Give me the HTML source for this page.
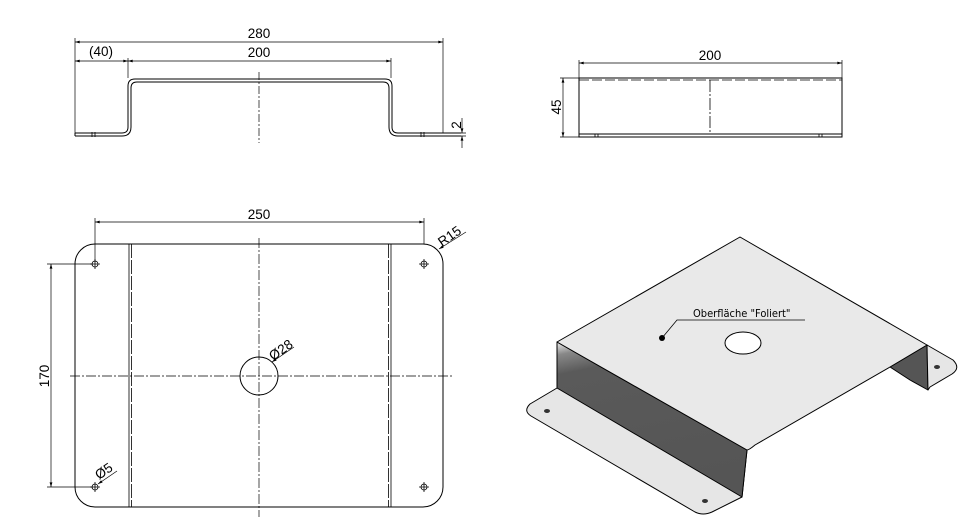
<!DOCTYPE html>
<html><head><meta charset="utf-8"><style>
html,body{margin:0;padding:0;background:#fff;}
svg{display:block;font-family:"Liberation Sans",sans-serif;}
</style></head><body>
<svg width="980" height="523" viewBox="0 0 980 523" xmlns="http://www.w3.org/2000/svg">
<defs>
<marker id="a" viewBox="0 0 10 6" refX="10" refY="3" markerWidth="8" markerHeight="4" orient="auto-start-reverse"><path d="M0,0L10,3L0,6z" fill="#000"/></marker>
<linearGradient id="w" x1="0" y1="0" x2="0.25" y2="1"><stop offset="0" stop-color="#f0f0f0"/><stop offset="0.08" stop-color="#888"/><stop offset="0.2" stop-color="#5a5a5a"/><stop offset="1" stop-color="#555"/></linearGradient>
</defs>
<g stroke="#000" stroke-width="1" fill="none">
<path d="M75,136H122Q131,136 131,127V88Q131,82 137,82H383Q389,82 389,88V127Q389,136 398,136H461"/>
<path d="M75,133H122Q128,133 128,127V86Q128,79 135,79H385Q392,79 392,86V127Q392,133 398,133H461"/>
<line x1="75" y1="133" x2="75" y2="136"/>
<path d="M92,132V137M95,132V137M421,132V137M424,132V137" stroke-width="0.8"/>
<line x1="75" y1="38" x2="75" y2="133" stroke-width="0.7"/>
<line x1="443" y1="38" x2="443" y2="133" stroke-width="0.7"/>
<line x1="128" y1="58" x2="128" y2="78" stroke-width="0.7"/>
<line x1="391" y1="58" x2="391" y2="78" stroke-width="0.7"/>
<line x1="75" y1="42" x2="443" y2="42" stroke-width="0.7" marker-start="url(#a)" marker-end="url(#a)"/>
<line x1="75" y1="61" x2="128" y2="61" stroke-width="0.7" marker-start="url(#a)" marker-end="url(#a)"/>
<line x1="128" y1="61" x2="391" y2="61" stroke-width="0.7" marker-start="url(#a)" marker-end="url(#a)"/>
<line x1="259" y1="72" x2="259" y2="143" stroke-width="0.7" stroke-dasharray="8,2,2,2"/>
<line x1="443" y1="133" x2="466" y2="133" stroke-width="0.7"/>
<line x1="443" y1="136" x2="466" y2="136" stroke-width="0.7"/>
<line x1="462" y1="118" x2="462" y2="133" stroke-width="0.7" marker-end="url(#a)"/>
<line x1="462" y1="148" x2="462" y2="136" stroke-width="0.7" marker-end="url(#a)"/>

<rect x="579" y="78" width="263" height="59"/>
<line x1="579" y1="80" x2="842" y2="80" stroke-dasharray="10,3" stroke-width="0.8"/>
<line x1="579" y1="134" x2="842" y2="134"/>
<line x1="710" y1="80" x2="710" y2="134" stroke-width="0.8" stroke-dasharray="12,2,2,2"/>
<path d="M595,134V137M598,134V137M819,134V137M822,134V137" stroke-width="0.8"/>
<line x1="579" y1="60" x2="579" y2="78" stroke-width="0.7"/>
<line x1="842" y1="60" x2="842" y2="78" stroke-width="0.7"/>
<line x1="579" y1="63" x2="842" y2="63" stroke-width="0.7" marker-start="url(#a)" marker-end="url(#a)"/>
<line x1="560" y1="78" x2="579" y2="78" stroke-width="0.7"/>
<line x1="560" y1="137" x2="579" y2="137" stroke-width="0.7"/>
<line x1="563" y1="78" x2="563" y2="137" stroke-width="0.7" marker-start="url(#a)" marker-end="url(#a)"/>

<rect x="75" y="244" width="368" height="263" rx="20"/>
<path d="M129,244V507M391,244V507" stroke-width="0.8"/>
<path d="M131.5,244V507M388.5,244V507" stroke-width="0.8" stroke-dasharray="14,2"/>
<circle cx="259" cy="376" r="19"/>
<line x1="259" y1="238" x2="259" y2="517" stroke-width="0.7" stroke-dasharray="10,2,2,2"/>
<line x1="70" y1="376" x2="452" y2="376" stroke-width="0.7" stroke-dasharray="10,2,2,2"/>
<g stroke-width="0.8">
<circle cx="95" cy="264" r="3"/><path d="M90,264H100M95,259V269"/>
<circle cx="424" cy="264" r="3"/><path d="M419,264H429M424,259V269"/>
<circle cx="95" cy="487" r="3"/><path d="M90,487H100M95,482V492"/>
<circle cx="424" cy="487" r="3"/><path d="M419,487H429M424,482V492"/>
</g>
<line x1="95" y1="218" x2="95" y2="262" stroke-width="0.7"/>
<line x1="424" y1="218" x2="424" y2="244" stroke-width="0.7"/>
<line x1="95" y1="222" x2="424" y2="222" stroke-width="0.7" marker-start="url(#a)" marker-end="url(#a)"/>
<line x1="47" y1="264" x2="93" y2="264" stroke-width="0.7"/>
<line x1="47" y1="487" x2="93" y2="487" stroke-width="0.7"/>
<line x1="51" y1="264" x2="51" y2="487" stroke-width="0.7" marker-start="url(#a)" marker-end="url(#a)"/>
<line x1="466" y1="232" x2="439" y2="249" stroke-width="0.7" marker-end="url(#a)"/>
<line x1="294" y1="347" x2="272" y2="362" stroke-width="0.7" marker-end="url(#a)"/>
<line x1="117" y1="471" x2="98" y2="484" stroke-width="0.7" marker-end="url(#a)"/>
</g>

<g stroke="#000" stroke-width="1" stroke-linejoin="round">
<path d="M557,388L530,404Q523,411 531,416L695,512Q703,516 712,512L742,497L747,450L557,342Z" fill="#e6e6e6"/>
<path d="M557,342L747,450L742,497L557,388Z" fill="url(#w)"/>
<path d="M890,367L927,345L928,390L910,380Z" fill="#555"/>
<path d="M927,345L953,360Q961,368 952,374L930,387L928,390Z" fill="#e6e6e6"/>
<path d="M557,342L740,237L927,345L890,367L755,445Q749,450 747,450L557,342Z" fill="#e9e9e9"/>
<ellipse cx="743" cy="343" rx="18" ry="11" fill="#fff"/>
</g>
<g fill="#333">
<ellipse cx="547" cy="411" rx="3" ry="2"/><ellipse cx="705" cy="501" rx="3" ry="2"/><ellipse cx="937" cy="367" rx="3" ry="2"/>
<circle cx="662" cy="338" r="3" fill="#000"/>
</g>
<path d="M662,338L677,320H805" stroke="#000" stroke-width="0.8" fill="none"/>

<g font-size="13.5" fill="#000">
<text x="259" y="38" text-anchor="middle">280</text>
<text x="259" y="57" text-anchor="middle">200</text>
<text x="101" y="56" text-anchor="middle">(40)</text>
<text x="710" y="60" text-anchor="middle">200</text>
<text x="259" y="219" text-anchor="middle">250</text>
<text transform="translate(461,125) rotate(-90)" text-anchor="middle">2</text>
<text transform="translate(561,107) rotate(-90)" text-anchor="middle">45</text>
<text transform="translate(49,376) rotate(-90)" text-anchor="middle">170</text>
<text transform="translate(442,247) rotate(-35)">R15</text>
<text transform="translate(273,361) rotate(-35)">Ø28</text>
<text transform="translate(99,480) rotate(-35)">Ø5</text>
</g>
<text x="693" y="317" font-size="11" font-family="'DejaVu Sans Condensed','Liberation Sans Narrow',sans-serif" fill="#000">Oberfläche "Foliert"</text>
</svg>
</body></html>
